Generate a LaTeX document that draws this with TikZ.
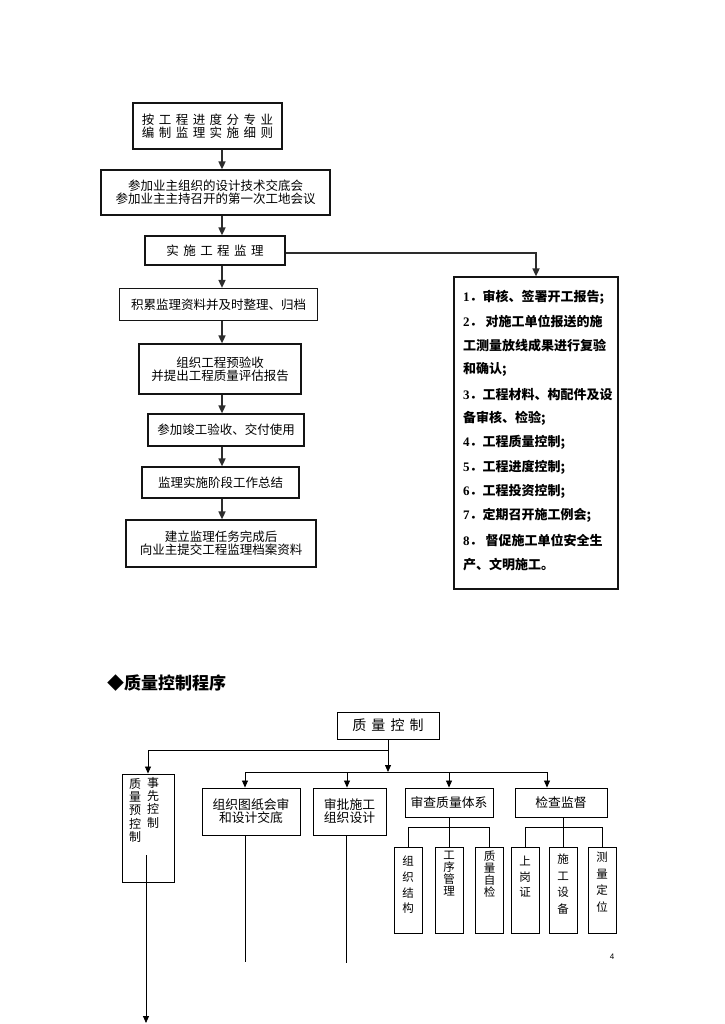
\documentclass[tikz,border=0pt]{standalone}
\usepackage{fontspec}
\setmainfont{Noto Sans CJK SC}
\newfontfamily\widecjk[WordSpace=1.6]{Noto Sans CJK SC}
\newfontfamily\numfont{Liberation Serif}
\newfontfamily\pagefont{Liberation Sans}
\usepackage{tikz}
\usetikzlibrary{arrows.meta}
\definecolor{inkline}{RGB}{45,45,45}
\definecolor{boxline}{RGB}{20,20,20}
\newcommand\dnum[1]{{\numfont\bfseries #1}}

\begin{document}
\begin{tikzpicture}[x=1pt,y=-1pt,
  flowbox/.style={draw=boxline, line width=1.2pt, align=center, inner sep=1pt, font=\fontsize{12.5}{13}\selectfont},
  flow/.style={draw=inkline, line width=1.6pt, -{Triangle[width=7pt,length=8pt]}},
  dutyline/.style={anchor=west, inner sep=0pt, font=\fontsize{13}{13}\selectfont\bfseries},
  qbox/.style={draw=black, line width=0.9pt, align=center, inner sep=1pt, font=\fontsize{12.8}{13}\selectfont},
  leaf/.style={draw=black, line width=0.9pt, minimum width=28, minimum height=86, inner sep=0pt},
  vtext/.style={anchor=north, align=center, inner sep=0pt},
  link/.style={draw=black, line width=0.8pt},
  arrow/.style={link, -{Triangle[width=6pt,length=7pt]}}]
  \useasboundingbox (0,0) rectangle (724,1024);

  % supervision work flow
  \node[flowbox, minimum width=149, minimum height=46, font=\widecjk\fontsize{12.5}{13}\selectfont] (plan) at (207.5,126) {按 工 程 进 度 分 专 业\\编 制 监 理 实 施 细 则};
  \node[flowbox, minimum width=229, minimum height=45] (meet) at (215.5,192.5) {参加业主组织的设计技术交底会\\参加业主主持召开的第一次工地会议};
  \node[flowbox, minimum width=140, minimum height=29, font=\widecjk\fontsize{12.5}{13}\selectfont] (exec) at (215,250.5) {实 施 工 程 监 理};
  \node[flowbox, minimum width=198, minimum height=32] (archive) at (218.5,304.5) {积累监理资料并及时整理、归档};
  \node[flowbox, minimum width=162, minimum height=50] (accept) at (220,369) {组织工程预验收\\并提出工程质量评估报告};
  \node[flowbox, minimum width=156, minimum height=32] (handover) at (226,430) {参加竣工验收、交付使用};
  \node[flowbox, minimum width=157, minimum height=31] (summary) at (220.5,482.5) {监理实施阶段工作总结};
  \node[flowbox, minimum width=190, minimum height=47] (submit) at (221,543.5) {建立监理任务完成后\\向业主提交工程监理档案资料};

  \coordinate (spine) at (222,0);
  \foreach \a/\b in {plan/meet, meet/exec, exec/archive, archive/accept, accept/handover, handover/summary, summary/submit}
    \draw[flow] (\a.south -| spine) -- (\b.north -| spine);

  % duties of the supervisor
  \node[draw=boxline, line width=1.2pt, minimum width=164, minimum height=312] (duties) at (536,433) {};
  \draw[flow] ([yshift=-2.5pt]exec.east) -| (duties.north);
  \foreach \i/\txt in {0/{\dnum{1}．审核、签署开工报告;},
                       1/{\dnum{2}．\hspace{3pt}对施工单位报送的施},
                       2/{工测量放线成果进行复验},
                       3/{和确认;},
                       4/{\dnum{3}．工程材料、构配件及设},
                       5/{备审核、检验;},
                       6/{\dnum{4}．工程质量控制;},
                       7/{\dnum{5}．工程进度控制;},
                       8/{\dnum{6}．工程投资控制;},
                       9/{\dnum{7}．定期召开施工例会;},
                       10/{\dnum{8}．\hspace{3pt}督促施工单位安全生},
                       11/{产、文明施工。}}
    \node[dutyline] (duty\i) at (463,297+24.3*\i) {\txt};

  % quality control procedure
  \node[anchor=west, inner sep=0pt, font=\fontsize{17}{17}\selectfont\bfseries] (title) at (107,683) {◆质量控制程序};

  \node[qbox, minimum width=102, minimum height=27, font=\widecjk\fontsize{14}{14}\selectfont] (qc) at (388,725.5) {质 量 控 制};
  \node[qbox, minimum width=52, minimum height=108] (pre) at (148,828) {};
  \node[vtext, font=\fontsize{12}{13.3}\selectfont] (preL) at (135,778) {质\\量\\预\\控\\制};
  \node[vtext, font=\fontsize{12}{13.3}\selectfont] (preR) at (153,777) {事\\先\\控\\制};
  \node[qbox, minimum width=98, minimum height=47] (drawing) at (251,811.5) {组织图纸会审\\和设计交底};
  \node[qbox, minimum width=73, minimum height=47] (approve) at (349.5,811.5) {审批施工\\组织设计};
  \node[qbox, minimum width=88, minimum height=29] (system) at (449,802.5) {审查质量体系};
  \node[qbox, minimum width=92, minimum height=29] (inspect) at (561,802.5) {检查监督};

  \foreach \nm/\cx/\top/\gap/\txt in {sysA/408/856/15.6/{组\\织\\结\\构}, sysB/449/851/12/{工\\序\\管\\理},
      sysC/489.5/851/12/{质\\量\\自\\检}, insA/525/856/15.6/{上\\岗\\证},
      insB/563/854/16.5/{施\\工\\设\\备}, insC/602/852/16.5/{测\\量\\定\\位}}
  {
    \node[leaf] (\nm) at (\cx,890) {};
    \node[vtext, font=\fontsize{11.5}{\gap}\selectfont] (\nm text) at (\cx,\top) {\txt};
  }

  \coordinate (topbus) at (0,750);
  \coordinate (midbus) at (0,772);
  \coordinate (leafbus) at (0,827);
  \coordinate (dropA) at (245,772);
  \coordinate (dropB) at (347,772);
  \coordinate (dropC) at (449,772);
  \coordinate (dropD) at (547,772);

  \draw[arrow] (qc.south) -- (qc.south |- topbus) -| (pre.north);
  \draw[arrow] (qc.south |- topbus) -- (qc.south |- midbus);
  \draw[link] (dropA) -- (dropD);
  \draw[arrow] (dropA) -- (dropA |- drawing.north);
  \draw[arrow] (dropB) -- (dropB |- approve.north);
  \draw[arrow] (dropC) -- (dropC |- system.north);
  \draw[arrow] (dropD) -- (dropD |- inspect.north);

  \coordinate (tailA) at (245,962);
  \coordinate (tailB) at (346,963);
  \draw[link] (drawing.south -| dropA) -- (tailA);
  \draw[link] (approve.south -| tailB) -- (tailB);

  \coordinate (preTail) at (146,855);
  \coordinate (preEnd) at (146,1023);
  \draw[arrow] (preTail) -- (preEnd);

  \draw[link] (sysA.north |- leafbus) -- (sysC.north |- leafbus);
  \draw[link] (system.south) -- (sysB.north);
  \draw[link] (sysA.north |- leafbus) -- (sysA.north);
  \draw[link] (sysC.north |- leafbus) -- (sysC.north);
  \draw[link] (insA.north |- leafbus) -- (insC.north |- leafbus);
  \draw[link] (inspect.south -| insB) -- (insB.north);
  \draw[link] (insA.north |- leafbus) -- (insA.north);
  \draw[link] (insC.north |- leafbus) -- (insC.north);

  \node[inner sep=0pt, font=\pagefont\fontsize{8}{8}\selectfont] (pagenum) at (612,957) {4};
\end{tikzpicture}
\end{document}
